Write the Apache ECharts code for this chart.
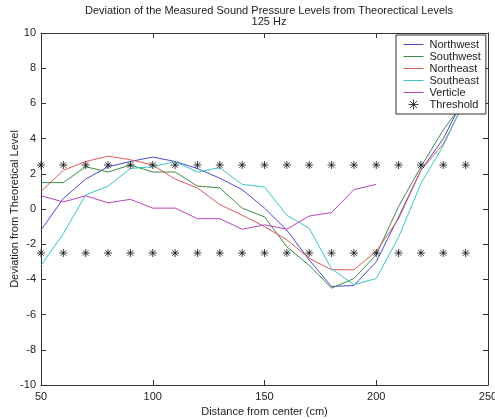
<!DOCTYPE html>
<html>
<head>
<meta charset="utf-8">
<script src="https://cdn.jsdelivr.net/npm/echarts@6/dist/echarts.min.js"></script>
<style>
  html, body { margin: 0; padding: 0; background: #fff; }
  #chart { width: 495px; height: 419px; }
</style>
</head>
<body>
<div id="chart"></div>
<script>
// distance from center (cm)
const distances = [50, 60, 70, 80, 90, 100, 110, 120, 130, 140, 150, 160, 170, 180, 190, 200, 210, 220, 230, 240];
const northwest = [-1.2, 0.6, 1.7, 2.4, 2.7, 2.95, 2.7, 2.3, 1.75, 1.1, 0.05, -1.2, -2.9, -4.4, -4.35, -3.0, -0.45, 2.2, 4.0, 6.5];
const southwest = [1.5, 1.5, 2.4, 2.1, 2.5, 2.1, 2.1, 1.3, 1.2, 0.05, -0.45, -2.15, -3.2, -4.5, -3.95, -2.6, 0.15, 2.4, 4.5, 6.2];
const northeast = [1.0, 2.2, 2.7, 3.0, 2.8, 2.5, 1.7, 1.2, 0.25, -0.35, -1.0, -1.75, -2.8, -3.45, -3.45, -2.4, -0.55, 2.2, 3.7, 6.2];
const southeast = [-3.2, -1.4, 0.8, 1.3, 2.3, 2.4, 2.7, 2.1, 2.35, 1.4, 1.25, -0.35, -1.1, -3.4, -4.3, -3.95, -1.6, 1.45, 3.6, 6.3];
const verticleX = [50, 60, 70, 80, 90, 100, 110, 120, 130, 140, 150, 160, 170, 180, 190, 200];
const verticle = [0.75, 0.4, 0.75, 0.35, 0.55, 0.05, 0.05, -0.55, -0.55, -1.15, -0.9, -1.15, -0.4, -0.2, 1.1, 1.4];
const thresholdLevels = [2.5, -2.5];

const seriesNames = ['Northwest', 'Southwest', 'Northeast', 'Southeast', 'Verticle'];
const seriesColors = ['#4a4ad0', '#3f8a4a', '#e05a55', '#3cc6c6', '#b843b8'];

const font = 'Liberation Sans, Arial, sans-serif';
const asterisk = 'path://M5,0L5,10M0,5L10,5M1.5,1.5L8.5,8.5M1.5,8.5L8.5,1.5';
// thin horizontal stroke; the zero-length moves keep the box 10 high
const lineIcon = 'path://M0,0L0,0M0,10L0,10M0,5L20,5';

const pairs = (xs, ys) => xs.map((x, i) => [x, ys[i]]);
const thresholdData = [];
thresholdLevels.forEach(level => distances.forEach(d => thresholdData.push([d, level])));

function lineSeries(name, data, color) {
    return {
        name: name,
        type: 'line',
        data: data,
        symbol: 'none',
        lineStyle: { width: 1, color: color },
        itemStyle: { color: color },
        z: 3
    };
}

const legendData = seriesNames.map((n, i) => ({
    name: n,
    icon: lineIcon,
    itemStyle: { color: 'none', borderColor: seriesColors[i], borderWidth: 1 }
}));
legendData.push({ name: 'Threshold', itemStyle: { color: 'none', borderColor: '#111', borderWidth: 1 } });

const chart = echarts.init(document.getElementById('chart'));
const axisLine = { show: true, onZero: false, lineStyle: { color: '#333', width: 1 } };
const tickIn = { show: true, inside: true, length: 5, lineStyle: { color: '#333' } };

chart.setOption({
    animation: false,
    backgroundColor: '#fff',
    title: {
        text: 'Deviation of the Measured Sound Pressure Levels from Theorectical Levels\n125 Hz',
        left: 264,
        top: 0,
        textAlign: 'center',
        textStyle: { fontFamily: font, fontSize: 11, fontWeight: 'normal', color: '#222', lineHeight: 11 }
    },
    legend: {
        orient: 'vertical',
        left: 396,
        top: 35,
        padding: [2, 5, 2, 5],
        itemGap: -3,
        itemWidth: 20,
        itemHeight: 10,
        backgroundColor: '#fff',
        borderColor: '#333',
        borderWidth: 1,
        z: 10,
        textStyle: { fontFamily: font, fontSize: 11, color: '#222', lineHeight: 12, padding: [0, 0, 0, 1] },
        data: legendData
    },
    grid: { left: 41, right: 7, top: 33, bottom: 34, outerBoundsMode: 'none' },
    xAxis: [{
        type: 'value', min: 50, max: 250, interval: 50,
        name: 'Distance from center (cm)', nameLocation: 'middle', nameGap: 16,
        nameTextStyle: { fontFamily: font, fontSize: 11, color: '#222' },
        axisLine: axisLine, axisTick: tickIn, splitLine: { show: false },
        axisLabel: { fontFamily: font, fontSize: 11, color: '#222', margin: 6 }
    }, {
        type: 'value', min: 50, max: 250, interval: 50, position: 'top',
        axisLine: axisLine, axisTick: tickIn, splitLine: { show: false },
        axisLabel: { show: false }
    }],
    yAxis: [{
        type: 'value', min: -10, max: 10, interval: 2,
        name: 'Deviation from Theoretical Level', nameLocation: 'middle', nameGap: 21,
        nameMoveOverlap: false,
        nameTextStyle: { fontFamily: font, fontSize: 11, color: '#222' },
        axisLine: axisLine, axisTick: tickIn, splitLine: { show: false },
        axisLabel: { fontFamily: font, fontSize: 11, color: '#222', margin: 5 }
    }, {
        type: 'value', min: -10, max: 10, interval: 2, position: 'right',
        axisLine: axisLine, axisTick: tickIn, splitLine: { show: false },
        axisLabel: { show: false }
    }],
    series: [
        lineSeries(seriesNames[0], pairs(distances, northwest), seriesColors[0]),
        lineSeries(seriesNames[1], pairs(distances, southwest), seriesColors[1]),
        lineSeries(seriesNames[2], pairs(distances, northeast), seriesColors[2]),
        lineSeries(seriesNames[3], pairs(distances, southeast), seriesColors[3]),
        lineSeries(seriesNames[4], pairs(verticleX, verticle), seriesColors[4]),
        {
            name: 'Threshold',
            type: 'scatter',
            data: thresholdData,
            symbol: asterisk,
            symbolSize: 8,
            itemStyle: { color: 'none', borderColor: '#111', borderWidth: 1 },
            z: 4
        }
    ]
});
</script>
</body>
</html>
